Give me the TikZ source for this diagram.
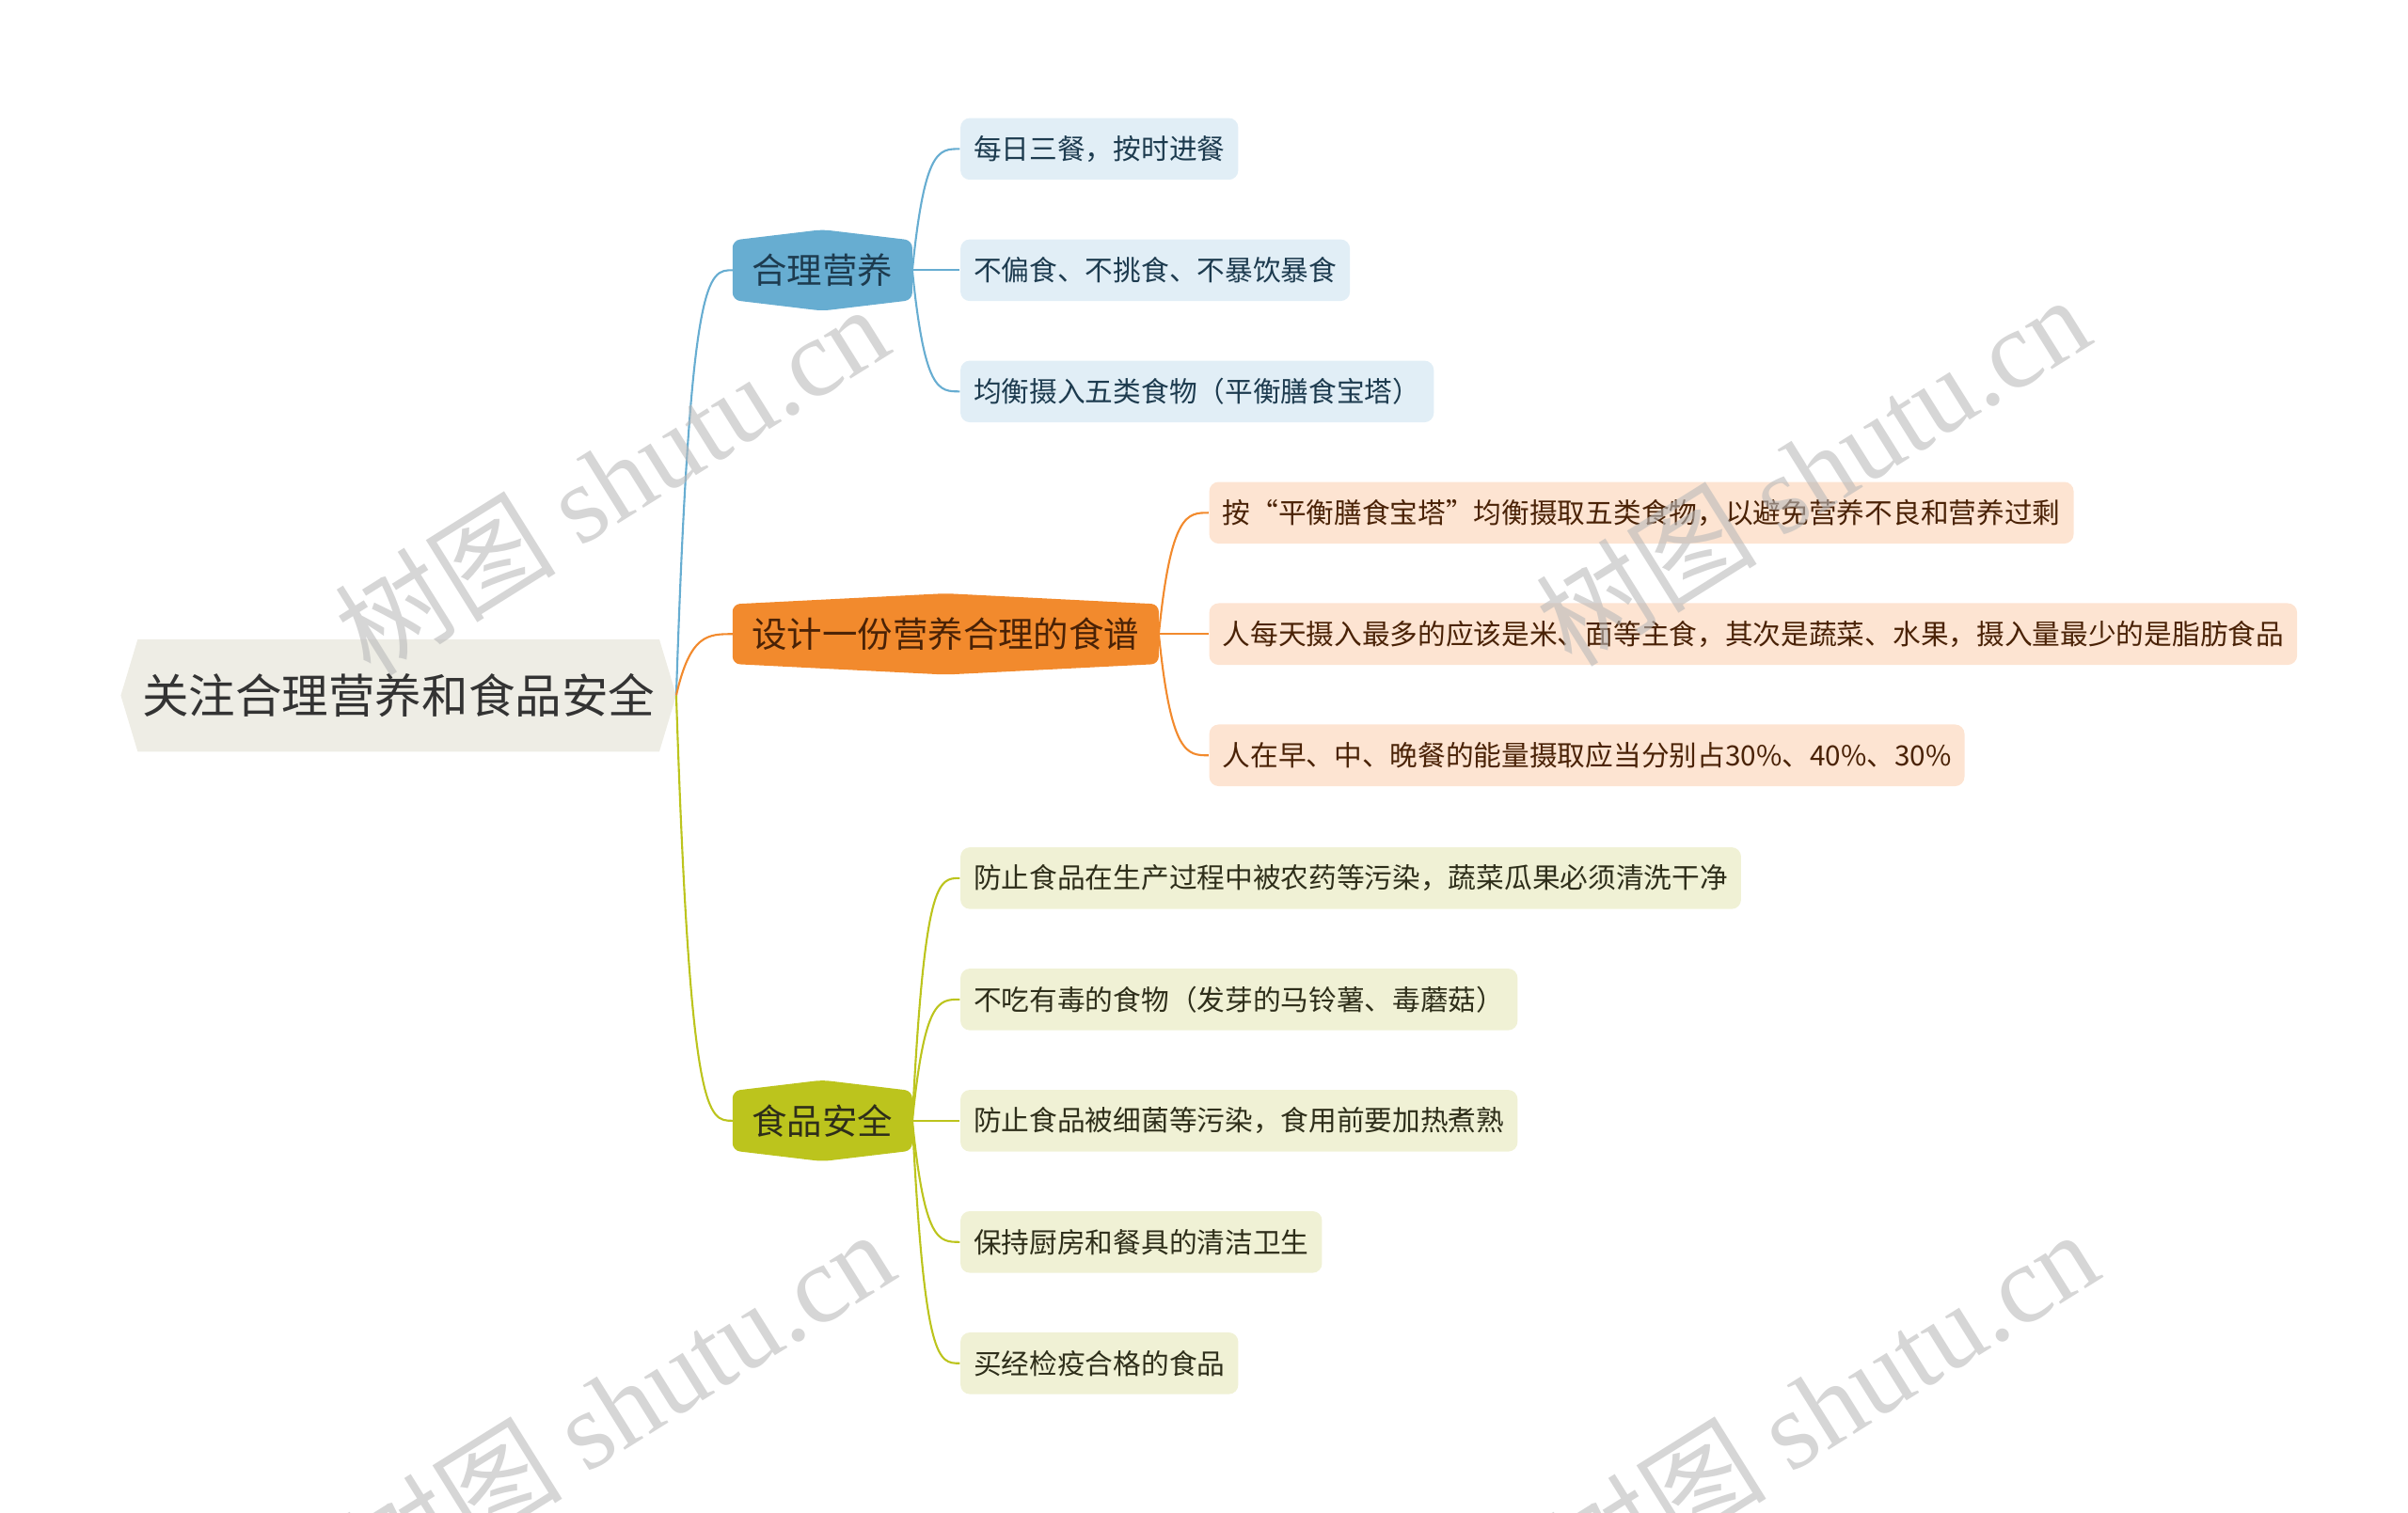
\documentclass[tikz,border=0pt]{standalone}
\usepackage{fontspec}
\setmainfont{Noto Sans CJK SC}
\newfontfamily\markfont{Liberation Serif}
\usepackage{xcolor}
\usepackage{tikz}
\usetikzlibrary{calc}
\usetikzlibrary{positioning}
\usetikzlibrary{backgrounds}

\definecolor{topicfill}{HTML}{EEEDE5}
\definecolor{topictext}{HTML}{333333}
\definecolor{bluemain}{HTML}{67ADD1}
\definecolor{bluelight}{HTML}{E1EEF6}
\definecolor{bluetext}{HTML}{1D3B4F}
\definecolor{orangemain}{HTML}{F28A2D}
\definecolor{orangelight}{HTML}{FDE4D2}
\definecolor{orangetext}{HTML}{4A2206}
\definecolor{greenmain}{HTML}{BCC41D}
\definecolor{greenlight}{HTML}{F0F1D5}
\definecolor{greentext}{HTML}{2E2E1A}
\definecolor{markgray}{HTML}{BABABA}

\tikzset{
  topic/.style={inner xsep=0.22cm, inner ysep=0pt, minimum height=1.18cm, text=topictext, font=\fontsize{14.1pt}{16pt}\selectfont},
  branch/.style={anchor=west, inner xsep=0.2cm, inner ysep=0pt, minimum height=0.85cm, font=\fontsize{10.65pt}{12pt}\selectfont},
  leaf/.style={anchor=west, inner xsep=0.14cm, inner ysep=0pt, minimum height=0.656cm, rounded corners=0.1cm, font=\fontsize{8.45pt}{10pt}\selectfont},
  blueleaf/.style={leaf, fill=bluelight, text=bluetext},
  orangeleaf/.style={leaf, fill=orangelight, text=orangetext},
  greenleaf/.style={leaf, fill=greenlight, text=greentext},
  link/.style={line width=0.6pt},
  watermark/.style={rotate=32, text=markgray, text opacity=0.6, font=\fontsize{33.5pt}{38pt}\selectfont}
}

\newcommand{\branchshape}[2]{%
  \fill[#2, rounded corners=0.08cm] (#1.north) -- ($(#1.north east)+(0,7)$)
    -- ($(#1.south east)+(0,-7)$) -- (#1.south) -- ($(#1.south west)+(0,-7)$)
    -- ($(#1.north west)+(0,7)$) -- cycle;}

\begin{document}
\begin{tikzpicture}[x=0.016327cm, y=-0.016327cm]
  \useasboundingbox (0,0) rectangle (1568,985.5);

  % topic and branches
  \node[topic] (topic) at (259.5,453) {关注合理营养和食品安全};
  \node[branch, text=bluetext] (nutri) at (477,176) {合理营养};
  \node[branch, text=orangetext] (menu) at (477,413) {设计一份营养合理的食谱};
  \node[branch, text=greentext] (safe) at (477,730) {食品安全};

  \begin{scope}[on background layer]
    \fill[topicfill] (topic.west) -- ($(topic.north west)+(11,0)$) -- ($(topic.north east)+(-11,0)$)
      -- (topic.east) -- ($(topic.south east)+(-11,0)$) -- ($(topic.south west)+(11,0)$) -- cycle;
    \branchshape{nutri}{bluemain}
    \branchshape{menu}{orangemain}
    \branchshape{safe}{greenmain}
  \end{scope}

  % leaves
  \foreach \i/\y/\t in {1/97/每日三餐，按时进餐, 2/176/不偏食、不挑食、不暴饮暴食,
      3/255/均衡摄入五类食物（平衡膳食宝塔）}
    \node[blueleaf] (nutri\i) at (625,\y) {\t};
  \foreach \i/\y/\t in {1/334/按“平衡膳食宝塔”均衡摄取五类食物，以避免营养不良和营养过剩,
      2/413/人每天摄入最多的应该是米、面等主食，其次是蔬菜、水果，摄入量最少的是脂肪食品,
      3/492/人在早、中、晚餐的能量摄取应当分别占30\%、40\%、30\%}
    \node[orangeleaf] (menu\i) at (787,\y) {\t};
  \foreach \i/\y/\t in {1/572/防止食品在生产过程中被农药等污染，蔬菜瓜果必须清洗干净,
      2/651/不吃有毒的食物（发芽的马铃薯、毒蘑菇）, 3/730/防止食品被细菌等污染，食用前要加热煮熟,
      4/809/保持厨房和餐具的清洁卫生, 5/888/买经检疫合格的食品}
    \node[greenleaf] (safe\i) at (625,\y) {\t};

  % connectors
  \foreach \b/\c in {nutri/bluemain, menu/orangemain, safe/greenmain}
    \draw[link, \c] (topic.east) .. controls ($(topic.east |- \b.west)+(9,0)$) and ($(\b.west)+(-16,0)$) .. (\b.west);
  \foreach \i in {1,2,3}
    \draw[link, bluemain] (nutri.east) .. controls ($(nutri.east |- nutri\i.west)+(8,0)$) and ($(nutri\i.west)+(-14,0)$) .. (nutri\i.west);
  \foreach \i in {1,2,3}
    \draw[link, orangemain] (menu.east) .. controls ($(menu.east |- menu\i.west)+(8,0)$) and ($(menu\i.west)+(-14,0)$) .. (menu\i.west);
  \foreach \i in {1,...,5}
    \draw[link, greenmain] (safe.east) .. controls ($(safe.east |- safe\i.west)+(8,0)$) and ($(safe\i.west)+(-14,0)$) .. (safe\i.west);

  % watermarks
  \foreach \n/\x/\y in {1/398/312, 2/1180/306, 3/402/915, 4/1186/915}
    \node[watermark] (mark\n) at (\x,\y) {树图 {\markfont shutu.cn}};
\end{tikzpicture}
\end{document}
